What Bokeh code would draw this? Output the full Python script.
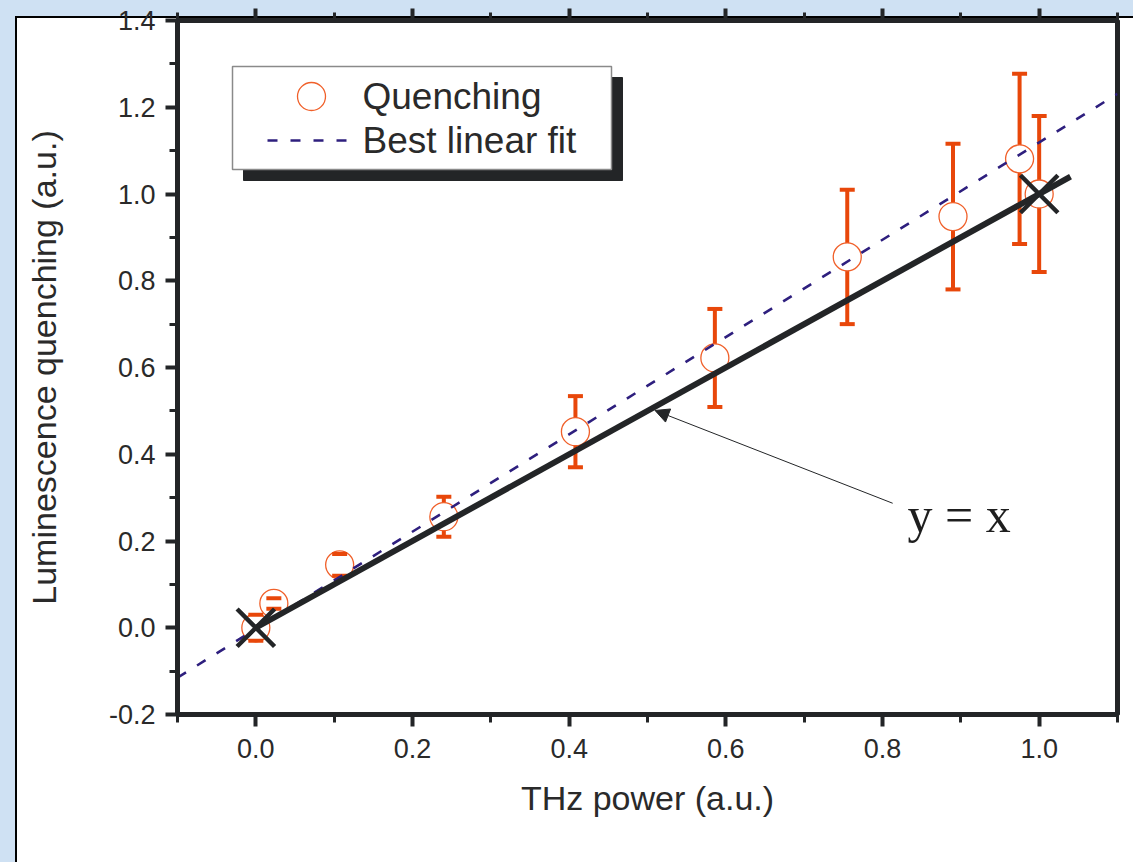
from bokeh.plotting import figure
from bokeh.models import (LinearAxis, SingleIntervalTicker, Arrow, NormalHead, Range1d,
                          PrintfTickFormatter, CustomJSTickFormatter)
from bokeh.core.properties import value
from bokeh.embed import file_html
from bokeh.resources import INLINE

# ---------------- data ----------------
thz_power = [0.0, 0.023, 0.107, 0.240, 0.408, 0.586, 0.755, 0.890, 0.975, 1.0]
quenching = [0.0, 0.056, 0.145, 0.256, 0.452, 0.622, 0.855, 0.948, 1.081, 1.0]
quench_err = [0.030, 0.012, 0.025, 0.046, 0.082, 0.113, 0.155, 0.168, 0.196, 0.180]

fit_x = [-0.1, 1.1]          # best linear fit end points
fit_y = [-0.115, 1.231]

ident_x = [0.0, 1.04]        # y = x reference line
ident_y = [0.0, 1.04]
cross_x = [0.0, 1.0]         # X marks at (0,0) and (1,1)
cross_y = [0.0, 1.0]

arrow_start = (0.813, 0.287)
arrow_end = (0.5096, 0.501)
note_text = "y = x"
note_pos = (0.832, 0.259)

x_label = "THz power (a.u.)"
y_label = "Luminescence quenching (a.u.)"
legend_labels = ["Quenching", "Best linear fit"]

# ---------------- layout constants ----------------
W, H = 1133, 862
FL, FR, FT, FB = 177, 1117, 20, 714       # frame edges in canvas px
XR = (-0.1, 1.1)
YR = (-0.2, 1.4)

def dx(px):
    return XR[0] + (px - FL) * (XR[1] - XR[0]) / (FR - FL)

def dy(py):
    return YR[1] - (py - FT) * (YR[1] - YR[0]) / (FB - FT)

INK = "#232527"
ORANGE = "#e8470a"
CIRCLE = "#f0602a"
NAVY = "#2e1f7e"
GRID = "#4b3f9a"
FONT = "Liberation Sans"
BLUE = "#cfe1f3"

p = figure(width=W, height=H,
           x_range=Range1d(XR[0] - 1e-9, XR[1] + 1e-9),
           y_range=Range1d(YR[0] - 1e-9, YR[1] + 1e-9),
           output_backend="svg", toolbar_location=None,
           min_border_left=FL, min_border_right=W - FR,
           min_border_top=FT, min_border_bottom=H - FB,
           x_axis_type=None, y_axis_type=None)
p.border_fill_color = None
p.background_fill_color = "white"
p.outline_line_color = INK
p.outline_line_width = 5
# light-blue page with a white panel (thin black left/top edge) behind the canvas
p.styles = {
    "background":
        "linear-gradient(black, black) 15px 16px / 100% 2px no-repeat, "
        "linear-gradient(black, black) 15px 16px / 2px 100% no-repeat, "
        "linear-gradient(white, white) 16px 17px / 100% 100% no-repeat, "
        + BLUE,
}

xticker = SingleIntervalTicker(interval=0.2, num_minor_ticks=2)
yticker = SingleIntervalTicker(interval=0.2, num_minor_ticks=2)

def style_axis(ax):
    ax.axis_line_color = INK
    ax.axis_line_width = 5
    ax.major_tick_line_color = INK
    ax.major_tick_line_width = 4
    ax.major_tick_out = 12
    ax.major_tick_in = 0
    ax.minor_tick_line_color = INK
    ax.minor_tick_line_width = 3
    ax.minor_tick_out = 8
    ax.minor_tick_in = 0
    ax.major_label_text_font = FONT
    ax.major_label_text_color = "#2a2a2a"
    ax.major_label_text_font_size = "27px"
    ax.axis_label_text_font = FONT
    ax.axis_label_text_font_style = "normal"
    ax.axis_label_text_color = "#2a2a2a"
    ax.axis_label_text_font_size = "34px"

fmt = PrintfTickFormatter(format="%.1f")

xaxis = LinearAxis(ticker=xticker, axis_label=x_label, formatter=fmt)
style_axis(xaxis)
xaxis.major_label_standoff = 12
xaxis.axis_label_standoff = 18
p.add_layout(xaxis, "below")

yaxis = LinearAxis(ticker=yticker, axis_label=y_label, formatter=fmt)
style_axis(yaxis)
yaxis.major_label_standoff = 10
yaxis.axis_label_standoff = 43
p.add_layout(yaxis, "left")

top_axis = LinearAxis(ticker=xticker, formatter=CustomJSTickFormatter(code="return ''"))
style_axis(top_axis)
top_axis.major_label_standoff = 0
p.add_layout(top_axis, "above")

p.xgrid.ticker = xticker
p.ygrid.ticker = yticker
p.grid.grid_line_color = GRID
p.grid.grid_line_alpha = 0.8
p.grid.grid_line_width = 1.2

# ---------------- data marks ----------------
upper = [q + e for q, e in zip(quenching, quench_err)]
lower = [q - e for q, e in zip(quenching, quench_err)]

p.segment(x0=thz_power, y0=lower, x1=thz_power, y1=upper,
          line_color=ORANGE, line_width=4)
p.scatter(x=thz_power, y=quenching, marker="circle", size=28,
          fill_color="white", line_color=CIRCLE, line_width=1.3)
p.scatter(x=thz_power + thz_power, y=upper + lower, marker="dash", size=15,
          line_color=ORANGE, line_width=4)

p.line(fit_x, fit_y, line_color=NAVY, line_width=2.6, line_dash="10 13")
p.line(ident_x, ident_y, line_color=INK, line_width=6)
p.scatter(x=cross_x, y=cross_y, marker="x", size=53, line_color=INK, line_width=4.5)

p.add_layout(Arrow(x_start=arrow_start[0], y_start=arrow_start[1],
                   x_end=arrow_end[0], y_end=arrow_end[1],
                   line_color=INK, line_width=1,
                   end=NormalHead(size=14, fill_color=INK, line_color=INK)))
p.text(x=[note_pos[0]], y=[note_pos[1]], text=[note_text],
       text_font=value("Liberation Serif"), text_font_size="50px",
       text_color="#1e1e1e", text_baseline="alphabetic", text_align="left")

# ---------------- legend (drawn by hand) ----------------
LX0, LY0, LX1, LY1 = 232, 66, 611, 169
SH = 11
p.quad(left=[dx(LX0 + SH)], right=[dx(LX1 + SH)], top=[dy(LY0 + SH)], bottom=[dy(LY1 + SH)],
       fill_color=INK, line_color=INK)
p.quad(left=[dx(LX0)], right=[dx(LX1)], top=[dy(LY0)], bottom=[dy(LY1)],
       fill_color="white", line_color="#8a8a8a", line_width=1.5)
p.scatter(x=[dx(311)], y=[dy(96)], marker="circle", size=28,
          fill_color="white", line_color=CIRCLE, line_width=1.3)
p.line([dx(267), dx(352)], [dy(140), dy(140)], line_color=NAVY, line_width=2.6,
       line_dash="10 13")
p.text(x=[dx(362), dx(362)], y=[dy(96), dy(140)], text=legend_labels,
       text_font=value(FONT), text_font_size="37px", text_color="#2a2a2a",
       text_baseline="middle", text_align="left")

open("out.html", "w").write(file_html(p, INLINE))
